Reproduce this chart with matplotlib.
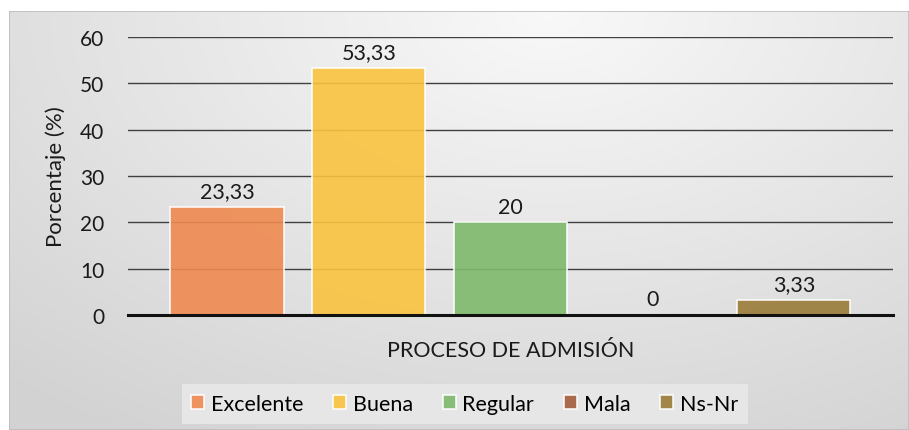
import numpy as np
import matplotlib.pyplot as plt
from matplotlib.patches import Rectangle

# data
categorias = ["Excelente", "Buena", "Regular", "Mala", "Ns-Nr"]
porcentajes = [23.33, 53.33, 20, 0, 3.33]
etiquetas = ["23,33", "53,33", "20", "0", "3,33"]
colores = ["#EF8A50", "#F9C33F", "#7DB96A", "#A35E3B", "#9A7B38"]
y_ticks = [0, 10, 20, 30, 40, 50, 60]

plt.rcParams['font.family'] = ['Lato', 'DejaVu Sans']

W, H = 909, 431
fig = plt.figure(figsize=(W / 100, H / 100), dpi=100)
fig.patch.set_facecolor("white")

# gray panel with soft radial gradient
bg = fig.add_axes([9 / W, 0, 1 - 9 / W, 1 - 12 / H])
yy, xx = np.mgrid[0:1:200j, 0:1:400j]
r = np.sqrt(((xx - 0.6) / 0.9) ** 2 + ((yy - 0.0) / 1.2) ** 2)
shade = 0.975 - 0.15 * np.clip(r, 0, 1)
bg.imshow(np.dstack([shade] * 3), aspect="auto", extent=[0, 1, 0, 1], origin="upper")
bg.add_patch(Rectangle((0, 0), 1, 1, fill=False, edgecolor="#bdbdbd", lw=1.2))
bg.set_xlim(0, 1)
bg.set_ylim(0, 1)
bg.axis("off")

ax = fig.add_axes([128 / W, 1 - 316 / H, (893 - 128) / W, (316 - 38) / H])
ax.patch.set_alpha(0)
x = np.arange(len(categorias))
bars = ax.bar(x, porcentajes, width=0.8, color=colores, alpha=0.9,
              edgecolor="white", linewidth=1.2, label=categorias, zorder=3)
for xi, v, t in zip(x, porcentajes, etiquetas):
    ax.annotate(t, (xi, v), xytext=(0, 4), textcoords="offset points",
                ha="center", va="bottom", fontsize=15.5, color="#1a1a1a")

ax.set_xlim(-0.7, 4.7)
ax.set_ylim(0, 60)
ax.set_yticks(y_ticks)
ax.tick_params(axis="y", length=0, labelsize=15, pad=17, colors="#1a1a1a")
ax.set_xticks([])
ax.grid(axis="y", color="#404040", linewidth=1.0, zorder=1)
ax.axhline(0, color="#111111", linewidth=2.2, zorder=4, clip_on=False)
for s in ax.spines.values():
    s.set_visible(False)

ax.set_ylabel("Porcentaje (%)", fontsize=16, color="#1a1a1a", labelpad=10)
ax.set_xlabel("PROCESO DE ADMISIÓN", fontsize=15.5, color="#1a1a1a", labelpad=18)

leg = ax.legend(handles=bars, labels=categorias, loc="upper center",
                bbox_to_anchor=(0.44, -0.21), ncol=5, frameon=True,
                fontsize=15.5, handlelength=0.6, handleheight=0.6,
                handletextpad=0.3, columnspacing=1.4, borderpad=0.45,
                fancybox=False)
leg.get_frame().set_facecolor("#e6e6e6")
leg.get_frame().set_edgecolor("none")
leg.get_frame().set_alpha(1)

fig.savefig("out.png", dpi=100)
